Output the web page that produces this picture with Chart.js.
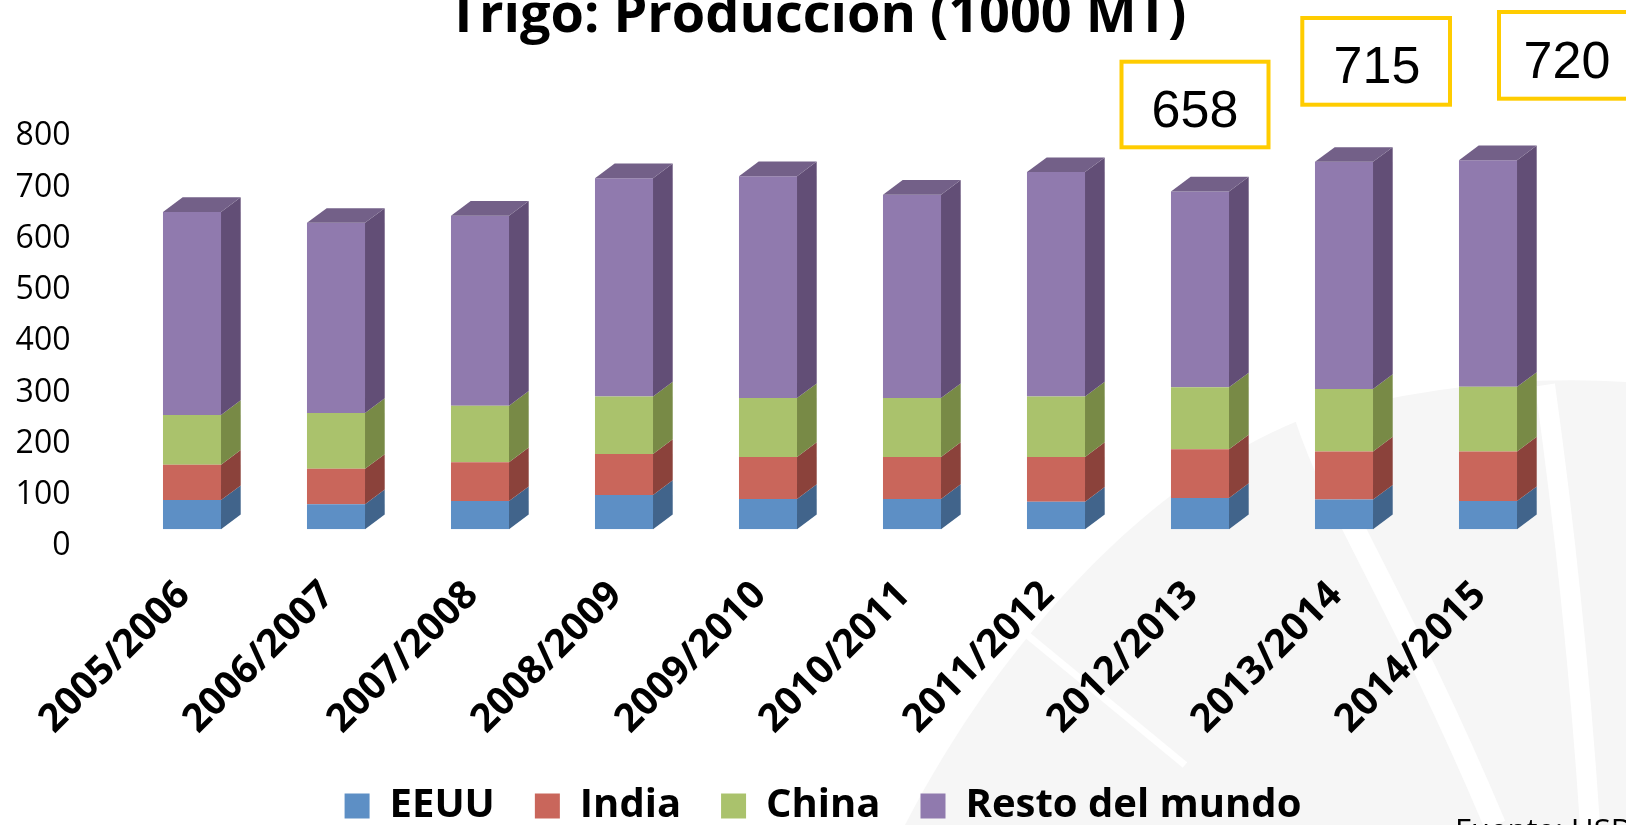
<!DOCTYPE html>
<html lang="es">
<head>
<meta charset="utf-8">
<title>Trigo: Producción (1000 MT)</title>
<script src="https://cdn.jsdelivr.net/npm/chart.js@4.4.0/dist/chart.umd.min.js"></script>
<style>
  html, body { margin: 0; padding: 0; background: #fff; }
  #grafico { display: block; }
</style>
</head>
<body>
<canvas id="grafico" width="1626" height="825"></canvas>
<script>
// Campañas
const campanas = ['2005/2006', '2006/2007', '2007/2008', '2008/2009', '2009/2010',
                  '2010/2011', '2011/2012', '2012/2013', '2013/2014', '2014/2015'];

// Producción (millones de t)
const eeuu       = [57, 49, 55, 67, 59, 59, 54, 61, 58, 55];
const india      = [69, 69, 76, 80, 82, 82, 87, 95, 94, 97];
const china      = [97, 109, 110, 112, 115, 115, 118, 121, 122, 126];
const restoMundo = [396, 371, 371, 426, 433, 397, 438, 382, 443, 442];

// Marcas del eje Y
const ticksY = [0, 100, 200, 300, 400, 500, 600, 700, 800];

// Totales destacados en los recuadros amarillos
const totalesDestacados = ['658', '715', '720'];

// Colores: cara frontal, cara lateral
const coloresFrente = ['#5d8fc5', '#c9665b', '#aac26c', '#907aae'];
const coloresLado   = ['#41648b', '#8b423b', '#788a46', '#624e76'];
const colorTapa = '#736088';

// profundidad del efecto 3D
const DX = 19.7, DY = 14.7;

// Fondo con la marca de agua gris
const fondo = {
    id: 'fondo',
    beforeDraw(chart) {
        const ctx = chart.ctx;
        ctx.save();
        ctx.fillStyle = '#fff';
        ctx.fillRect(0, 0, chart.width, chart.height);
        ctx.fillStyle = '#f6f6f6';
        ctx.beginPath();
        ctx.moveTo(905, 825);
        ctx.bezierCurveTo(1000, 640, 1150, 480, 1300, 420);
        ctx.quadraticCurveTo(1470, 372, 1626, 382);
        ctx.lineTo(1626, 825);
        ctx.closePath();
        ctx.fill();
        // franjas blancas
        ctx.strokeStyle = '#fff';
        ctx.lineWidth = 22;
        ctx.beginPath();
        ctx.moveTo(1305, 415);
        ctx.bezierCurveTo(1340, 520, 1400, 600, 1495, 825);
        ctx.stroke();
        ctx.lineWidth = 20;
        ctx.beginPath();
        ctx.moveTo(1545, 385);
        ctx.quadraticCurveTo(1575, 600, 1590, 825);
        ctx.stroke();
        ctx.lineWidth = 7;
        ctx.beginPath();
        ctx.moveTo(1015, 625);
        ctx.lineTo(1185, 765);
        ctx.stroke();
        ctx.restore();
    }
};

// Caras laterales y tapa de las columnas
const cubo3d = {
    id: 'cubo3d',
    afterDatasetsDraw(chart) {
        const ctx = chart.ctx;
        const n = chart.data.datasets.length;
        ctx.save();
        chart.data.datasets.forEach((ds, i) => {
            const meta = chart.getDatasetMeta(i);
            meta.data.forEach(bar => {
                const p = bar.getProps(['x', 'y', 'base', 'width'], true);
                const izq = p.x - p.width / 2;
                const der = p.x + p.width / 2;
                ctx.fillStyle = coloresLado[i];
                ctx.beginPath();
                ctx.moveTo(der, p.y);
                ctx.lineTo(der + DX, p.y - DY);
                ctx.lineTo(der + DX, p.base - DY);
                ctx.lineTo(der, p.base);
                ctx.closePath();
                ctx.fill();
                if (i === n - 1) {
                    ctx.fillStyle = colorTapa;
                    ctx.beginPath();
                    ctx.moveTo(izq, p.y);
                    ctx.lineTo(izq + DX, p.y - DY);
                    ctx.lineTo(der + DX, p.y - DY);
                    ctx.lineTo(der, p.y);
                    ctx.closePath();
                    ctx.fill();
                }
            });
        });
        ctx.restore();
    }
};

// Título, recuadros y fuente
const textos = {
    id: 'textos',
    afterDraw(chart) {
        const ctx = chart.ctx;
        ctx.save();
        ctx.fillStyle = '#000';
        ctx.textAlign = 'center';
        ctx.textBaseline = 'alphabetic';
        ctx.font = 'bold 54px "Open Sans"';
        ctx.fillText('Trigo: Producción (1000 MT)', 817, 32);

        const cajas = [
            { x: 1121.5, y: 61.7, w: 147, h: 85.6, base: 127, cx: 1195 },
            { x: 1302.3, y: 18, w: 147.7, h: 86.7, base: 83, cx: 1377 },
            { x: 1499, y: 12, w: 147, h: 86.7, base: 78, cx: 1567 }
        ];
        ctx.font = '52px "Liberation Sans"';
        cajas.forEach((c, i) => {
            ctx.fillStyle = '#fff';
            ctx.fillRect(c.x, c.y, c.w, c.h);
            ctx.strokeStyle = '#ffcc00';
            ctx.lineWidth = 4;
            ctx.strokeRect(c.x, c.y, c.w, c.h);
            ctx.fillStyle = '#000';
            ctx.fillText(totalesDestacados[i], c.cx, c.base);
        });

        ctx.textAlign = 'left';
        ctx.font = '31px "Open Sans"';
        ctx.fillText('Fuente: USDA', 1455, 841);
        ctx.restore();
    }
};

const ctx = document.getElementById('grafico').getContext('2d');
new Chart(ctx, {
    type: 'bar',
    data: {
        labels: campanas,
        datasets: [
            { label: 'EEUU', data: eeuu, backgroundColor: coloresFrente[0] },
            { label: 'India', data: india, backgroundColor: coloresFrente[1] },
            { label: 'China', data: china, backgroundColor: coloresFrente[2] },
            { label: 'Resto del mundo', data: restoMundo, backgroundColor: coloresFrente[3] }
        ]
    },
    options: {
        responsive: false,
        animation: false,
        datasets: { bar: { barPercentage: 0.403, categoryPercentage: 1.0, borderWidth: 0 } },
        // el margen derecho negativo y el eje vacío de la derecha centran la leyenda como en la diapositiva
        layout: { padding: { top: 119.3, right: -20, bottom: -11, left: 0 } },
        plugins: {
            legend: {
                position: 'bottom',
                labels: {
                    boxWidth: 25,
                    boxHeight: 25,
                    padding: 40,
                    color: '#000',
                    font: { family: 'Open Sans', weight: 'bold', size: 40 }
                }
            },
            title: { display: false },
            tooltip: { enabled: false }
        },
        scales: {
            x: {
                stacked: true,
                grid: { display: false, drawTicks: false },
                border: { display: false },
                ticks: {
                    autoSkip: false,
                    minRotation: 45,
                    maxRotation: 45,
                    padding: 43,
                    labelOffset: -8,
                    color: '#000',
                    font: { family: 'Open Sans', weight: 'bold', size: 39 }
                },
                afterFit(s) {
                    s.height = 216.7;
                    s.paddingLeft = 0;
                    s.paddingRight = 0;
                }
            },
            y: {
                stacked: true,
                min: 0,
                max: 800,
                grid: { display: false, drawTicks: false },
                border: { display: false },
                ticks: {
                    padding: 49.5,
                    labelOffset: 17,
                    color: '#000',
                    font: { family: 'Open Sans', size: 32 }
                },
                afterBuildTicks(s) {
                    s.ticks = ticksY.map(v => ({ value: v }));
                },
                afterFit(s) {
                    s.width = 120;
                }
            },
            yDer: {
                position: 'right',
                grid: { display: false, drawTicks: false },
                border: { display: false },
                ticks: { display: false },
                afterFit(s) {
                    s.width = 86;
                }
            }
        }
    },
    plugins: [fondo, cubo3d, textos]
});
</script>
</body>
</html>
